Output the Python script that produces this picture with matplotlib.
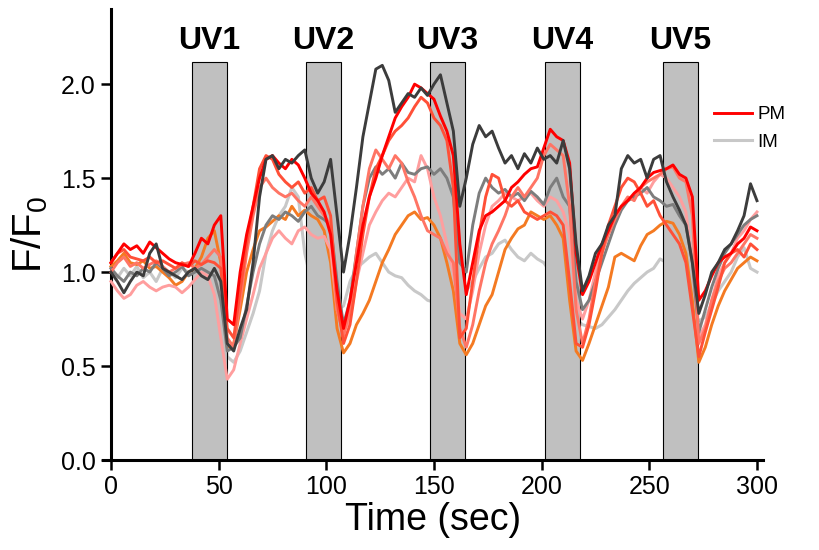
import numpy as np
import matplotlib
matplotlib.use("Agg")
import matplotlib.pyplot as plt

plt.rcParams['font.family'] = ['Liberation Sans', 'DejaVu Sans']
plt.rcParams['mathtext.default'] = 'regular'

# sample times (sec), one reading every 3 s
time = np.arange(0, 301, 3)

# UV pulses: start time and duration (sec)
uv_labels = ["UV1", "UV2", "UV3", "UV4", "UV5"]
uv_start = [37.6, 90.6, 148.2, 201.6, 256.4]
uv_length = [16.2, 16.2, 16.0, 16.2, 16.0]
uv_height = 2.12

# F/F0 traces
red = [
    1.05, 1.10, 1.15, 1.12, 1.14, 1.10, 1.16, 1.13, 1.10, 1.07,
    1.05, 1.04, 1.03, 1.10, 1.18, 1.15, 1.25, 1.30, 0.75, 0.72,
    1.00, 1.20, 1.35, 1.50, 1.60, 1.62, 1.58, 1.55, 1.60, 1.57,
    1.50, 1.42, 1.38, 1.32, 1.20, 0.90, 0.70, 0.85, 1.05, 1.25,
    1.40, 1.50, 1.62, 1.72, 1.82, 1.88, 1.93, 2.00, 1.98, 1.95,
    1.92, 1.83, 1.75, 1.62, 1.15, 0.88, 1.05, 1.22, 1.30, 1.32,
    1.35, 1.38, 1.45, 1.48, 1.52, 1.55, 1.56, 1.66, 1.76, 1.72,
    1.70, 1.58, 1.10, 0.88, 0.95, 1.05, 1.15, 1.22, 1.30, 1.35,
    1.38, 1.42, 1.45, 1.50, 1.53, 1.54, 1.55, 1.57, 1.52, 1.50,
    1.40, 0.85, 0.90, 0.98, 1.05, 1.08, 1.10, 1.15, 1.18, 1.24,
    1.22]
tomato = [
    1.05, 1.10, 1.12, 1.08, 1.07, 1.06, 1.08, 1.05, 1.06, 1.04,
    1.02, 1.05, 1.03, 1.06, 1.04, 1.06, 1.05, 1.02, 0.70, 0.65,
    0.90, 1.15, 1.35, 1.55, 1.62, 1.60, 1.52, 1.48, 1.45, 1.48,
    1.42, 1.45, 1.38, 1.40, 1.30, 0.85, 0.62, 0.72, 0.95, 1.20,
    1.40, 1.55, 1.62, 1.70, 1.75, 1.78, 1.82, 1.88, 1.93, 1.90,
    1.82, 1.78, 1.70, 1.45, 0.65, 0.70, 0.95, 1.20, 1.40, 1.52,
    1.50, 1.38, 1.35, 1.38, 1.32, 1.30, 1.28, 1.30, 1.32, 1.30,
    1.25, 0.95, 0.62, 0.60, 0.72, 0.90, 1.10, 1.25, 1.35, 1.45,
    1.50, 1.48, 1.42, 1.35, 1.38, 1.30, 1.25, 1.20, 1.15, 1.05,
    0.80, 0.55, 0.68, 0.80, 0.92, 1.05, 1.10, 1.12, 1.08, 1.15,
    1.12]
coral = [
    1.00, 1.05, 1.08, 1.03, 1.05, 1.02, 1.04, 1.06, 1.03, 1.00,
    1.02, 1.04, 1.05, 1.02, 1.04, 1.08, 1.12, 1.08, 0.65, 0.60,
    0.85, 1.10, 1.30, 1.45, 1.50, 1.45, 1.42, 1.40, 1.42, 1.38,
    1.35, 1.40, 1.35, 1.30, 1.25, 0.80, 0.66, 0.80, 1.10, 1.35,
    1.55, 1.65, 1.60, 1.55, 1.62, 1.58, 1.48, 1.40, 1.30, 1.22,
    1.20, 1.18, 1.10, 1.05, 0.70, 0.60, 0.72, 0.90, 1.05, 1.15,
    1.22, 1.30, 1.40, 1.45, 1.40, 1.45, 1.50, 1.62, 1.68, 1.65,
    1.62, 1.35, 0.80, 0.62, 0.75, 0.95, 1.10, 1.20, 1.28, 1.35,
    1.40, 1.38, 1.45, 1.48, 1.50, 1.52, 1.55, 1.56, 1.50, 1.48,
    1.30, 0.62, 0.70, 0.85, 0.95, 1.02, 1.05, 1.10, 1.15, 1.20,
    1.18]
pink = [
    0.95, 0.90, 0.86, 0.88, 0.93, 0.95, 0.92, 0.90, 0.92, 0.93,
    0.92, 0.89, 0.92, 0.96, 1.00, 0.98, 0.88, 0.65, 0.43, 0.48,
    0.62, 0.75, 0.88, 1.02, 1.10, 1.18, 1.22, 1.18, 1.15, 1.22,
    1.24, 1.20, 1.18, 1.19, 1.12, 0.80, 0.68, 0.75, 0.95, 1.10,
    1.25, 1.32, 1.38, 1.42, 1.40, 1.45, 1.50, 1.48, 1.62, 1.55,
    1.40, 1.30, 1.15, 1.00, 0.78, 0.75, 0.90, 1.10, 1.25, 1.35,
    1.38, 1.42, 1.40, 1.38, 1.40, 1.42, 1.38, 1.35, 1.40, 1.38,
    1.32, 1.20, 0.85, 0.75, 0.85, 1.00, 1.12, 1.22, 1.30, 1.35,
    1.38, 1.40, 1.45, 1.42, 1.48, 1.52, 1.50, 1.45, 1.40, 1.32,
    1.05, 0.65, 0.72, 0.85, 0.98, 1.05, 1.10, 1.18, 1.22, 1.28,
    1.32]
orange = [
    1.03, 1.06, 1.10, 1.05, 1.04, 1.06, 1.02, 1.03, 1.00, 0.97,
    0.93, 0.95, 1.00, 1.02, 1.08, 1.18, 1.22, 1.05, 0.60, 0.62,
    0.80, 1.00, 1.12, 1.22, 1.24, 1.27, 1.30, 1.28, 1.35, 1.30,
    1.33, 1.30, 1.28, 1.22, 1.05, 0.70, 0.57, 0.62, 0.72, 0.78,
    0.85, 0.95, 1.05, 1.12, 1.20, 1.25, 1.30, 1.32, 1.28, 1.29,
    1.25, 1.18, 1.05, 0.90, 0.62, 0.56, 0.62, 0.72, 0.82, 0.88,
    1.00, 1.12, 1.18, 1.23, 1.25, 1.32, 1.30, 1.28, 1.30, 1.25,
    1.18, 0.85, 0.58, 0.53, 0.62, 0.72, 0.82, 0.92, 1.08, 1.10,
    1.08, 1.06, 1.14, 1.20, 1.22, 1.25, 1.27, 1.26, 1.20, 1.10,
    0.85, 0.52, 0.60, 0.72, 0.82, 0.90, 0.96, 1.02, 1.05, 1.08,
    1.06]
grey = [
    1.02, 0.98, 0.95, 1.00, 0.98, 1.02, 1.00, 1.05, 1.02, 0.98,
    1.00, 1.03, 0.98, 1.00, 1.02, 1.00, 0.98, 0.85, 0.58, 0.60,
    0.65, 0.82, 1.00, 1.15, 1.25, 1.30, 1.28, 1.32, 1.30, 1.27,
    1.32, 1.35, 1.30, 1.28, 1.25, 0.95, 0.72, 0.85, 1.10, 1.35,
    1.50, 1.56, 1.52, 1.55, 1.50, 1.58, 1.53, 1.52, 1.55, 1.56,
    1.52, 1.55, 1.50, 1.40, 1.05, 1.00, 1.25, 1.42, 1.50, 1.45,
    1.42, 1.44, 1.40, 1.42, 1.38, 1.43, 1.40, 1.36, 1.45, 1.50,
    1.40, 1.35, 0.95, 0.80, 0.85, 0.95, 1.05, 1.15, 1.25, 1.33,
    1.38, 1.40, 1.42, 1.45, 1.40, 1.38, 1.35, 1.36, 1.30, 1.25,
    1.05, 0.68, 0.80, 0.92, 1.02, 1.10, 1.15, 1.20, 1.25, 1.28,
    1.30]
dark = [
    1.00, 0.95, 0.89, 0.95, 1.00, 0.98, 1.10, 1.15, 1.02, 1.00,
    0.98, 0.96, 1.00, 1.02, 0.98, 0.96, 1.02, 0.95, 0.62, 0.58,
    0.70, 0.80, 1.05, 1.40, 1.60, 1.62, 1.55, 1.60, 1.58, 1.62,
    1.65, 1.50, 1.42, 1.48, 1.60, 1.30, 1.00, 1.20, 1.45, 1.72,
    1.90, 2.08, 2.10, 2.02, 1.85, 1.90, 1.95, 1.93, 1.98, 1.94,
    2.00, 2.05, 1.90, 1.75, 1.35, 1.50, 1.68, 1.78, 1.72, 1.75,
    1.66, 1.58, 1.62, 1.55, 1.63, 1.58, 1.66, 1.60, 1.62, 1.58,
    1.70, 1.55, 1.15, 0.90, 0.98, 1.10, 1.15, 1.25, 1.30, 1.55,
    1.62, 1.58, 1.60, 1.50, 1.60, 1.62, 1.48, 1.40, 1.33, 1.25,
    1.05, 0.78, 0.88, 1.00, 1.05, 1.12, 1.15, 1.22, 1.30, 1.47,
    1.38]
light = [
    1.00, 0.97, 1.02, 0.98, 1.03, 0.97, 1.00, 0.95, 1.02, 1.00,
    0.97, 1.02, 1.00, 0.98, 1.00, 0.97, 1.00, 0.85, 0.55, 0.52,
    0.58, 0.68, 0.78, 0.90, 1.10, 1.22, 1.30, 1.35, 1.45, 1.40,
    1.10, 0.95, 0.90, 0.85, 0.82, 0.80, 0.82, 0.95, 1.02, 1.05,
    1.08, 1.10, 1.05, 1.00, 0.98, 0.97, 0.93, 0.90, 0.88, 0.85,
    0.84, 0.82, 0.80, 0.78, 0.80, 0.90, 0.95, 1.02, 1.08, 1.10,
    1.15, 1.17, 1.12, 1.08, 1.06, 1.10, 1.07, 1.05, 1.00, 0.95,
    0.90, 0.80, 0.75, 0.72, 0.71, 0.70, 0.72, 0.76, 0.80, 0.85,
    0.90, 0.94, 0.97, 1.00, 1.02, 1.07, 1.05, 1.00, 0.95, 0.90,
    0.82, 0.74, 0.76, 0.83, 0.90, 0.95, 1.00, 1.08, 1.13, 1.02,
    1.00]

fig = plt.figure(figsize=(8.19, 5.5), dpi=100)
ax = fig.add_axes([103 / 819, 90 / 550, 660 / 819, 451 / 550])

# IM trace sits under the UV bars
ax.plot(time, light, color="#c8c8c8", lw=2.2, zorder=1, label="IM")
ax.bar(uv_start, uv_height, width=uv_length, align="edge",
       color="#c0c0c0", edgecolor="black", linewidth=0.8, zorder=2)

ax.plot(time, orange, color="#f47a22", lw=2.1, zorder=3)
ax.plot(time, pink, color="#ff9e9e", lw=2.1, zorder=3)
ax.plot(time, grey, color="#7d7d7d", lw=2.1, zorder=3)
ax.plot(time, coral, color="#ff7565", lw=2.1, zorder=3)
ax.plot(time, tomato, color="#ff5038", lw=2.1, zorder=3)
ax.plot(time, red, color="#ff0000", lw=2.1, zorder=3, label="PM")
ax.plot(time, dark, color="#3c3c3c", lw=2.1, zorder=4)

for lab, s, w in zip(uv_labels, uv_start, uv_length):
    ax.text(s + w / 2, 2.23, lab, ha="center", va="center",
            fontsize=23, fontweight="bold")

ax.set_xlim(-3.7, 302.8)
ax.set_ylim(0, 2.4)
ax.set_xticks([0, 50, 100, 150, 200, 250, 300])
ax.set_yticks([0.0, 0.5, 1.0, 1.5, 2.0])
ax.set_yticklabels(["0.0", "0.5", "1.0", "1.5", "2.0"])
ax.spines["top"].set_visible(False)
ax.spines["right"].set_visible(False)
ax.spines["left"].set_position(("data", 0))
ax.spines["left"].set_linewidth(2.2)
ax.spines["bottom"].set_linewidth(2.2)
ax.tick_params(direction="out", length=7, width=1.8, labelsize=18, pad=4)

ax.set_xlabel("Time (sec)", fontsize=27, labelpad=2)
ax.set_ylabel("F/F$_0$", fontsize=29, labelpad=8)

h, l = ax.get_legend_handles_labels()
ax.legend(h[::-1], l[::-1], loc="upper left", bbox_to_anchor=(714 / 819, 1 - 106 / 550),
          bbox_transform=fig.transFigure, frameon=False, fontsize=13.5,
          handlelength=2.0, handletextpad=0.3, labelspacing=0.55,
          borderpad=0, borderaxespad=0)

fig.savefig("out.png", dpi=100)
